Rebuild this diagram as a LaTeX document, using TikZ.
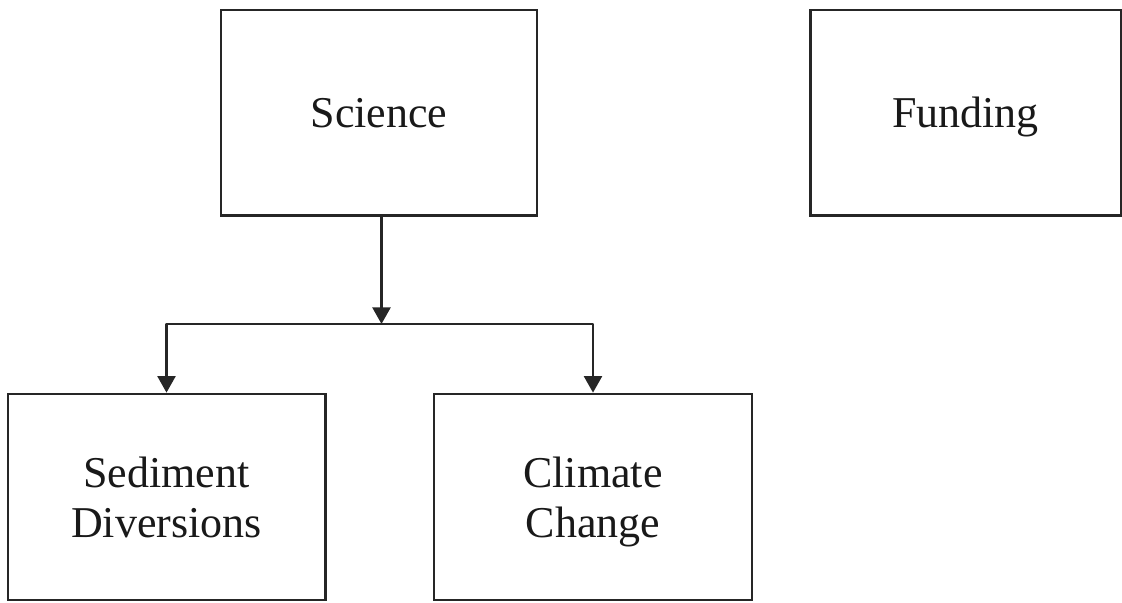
\documentclass[tikz,border=0pt]{standalone}
\usepackage{fontspec}
\setmainfont{Liberation Serif}
\usetikzlibrary{arrows.meta}
% fixed struts so the capitals sit centred in each box
\newcommand{\topstrut}{\rule{0pt}{29.8pt}}
\newcommand{\tallstrut}{\rule{0pt}{31.5pt}}
\newcommand{\botstrut}{\rule[-8pt]{0pt}{8pt}}
\begin{document}
\begin{tikzpicture}[x=0.75pt,y=-0.75pt,
  box/.style={draw=black!85, line width=2pt, rectangle, inner sep=0pt,
    align=center, font=\fontsize{33}{37.5}\selectfont, text=black!90},
  link/.style={draw=black!85, line width=2pt, line join=round},
  arrowlink/.style={link, -{Triangle[length=12.5pt,width=13.5pt]}}]
\useasboundingbox (0,0) rectangle (1122,603);
% top row
\node[box, minimum width=237pt, minimum height=154pt] (sci) at (379,112.5) {\topstrut Science\botstrut};
\node[box, minimum width=233pt, minimum height=154pt] (fund) at (965.5,112.5) {\topstrut Funding\botstrut};
% bottom row
\node[box, minimum width=238pt, minimum height=154.5pt] (sed) at (166.5,497) {\tallstrut Sediment\\Diversions\botstrut};
\node[box, minimum width=238.5pt, minimum height=154.5pt] (clim) at (593,497) {\tallstrut Climate\\Change\botstrut};
% branching connector
\coordinate (j) at (381.5,324);
\draw[arrowlink] (j |- sci.south) -- (j);
\draw[arrowlink] (j) -| (sed.north);
\draw[arrowlink] (j) -| (clim.north);
\end{tikzpicture}
\end{document}
